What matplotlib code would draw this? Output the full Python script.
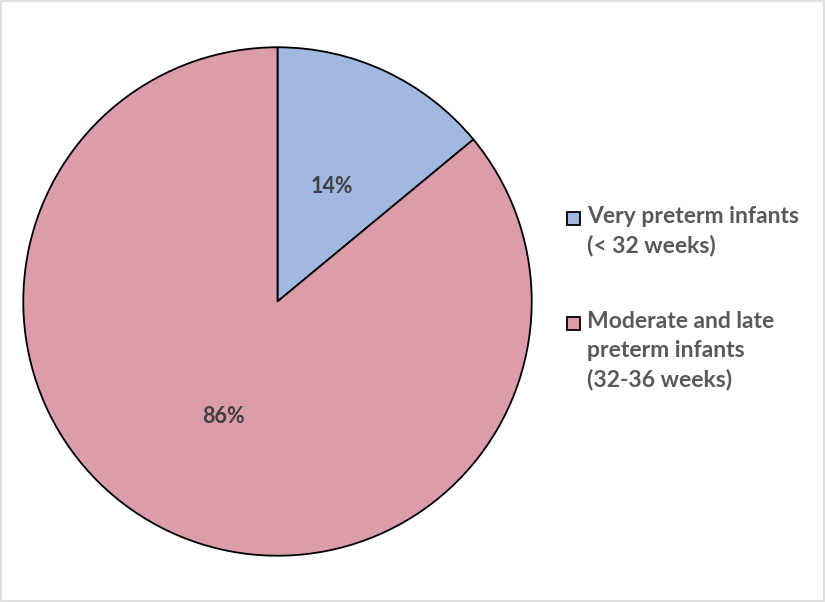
import matplotlib.pyplot as plt
from matplotlib.patches import Rectangle

labels = ['Very preterm infants\n(< 32 weeks)', 'Moderate and late\npreterm infants\n(32-36 weeks)']
shares = [14, 86]
colors = ['#A1B8E0', '#DB9DA9']

plt.rcParams['font.family'] = ['Lato', 'DejaVu Sans']

W, H = 825, 602
fig = plt.figure(figsize=(W / 100, H / 100), dpi=100)
ax = fig.add_axes([22 / W, 45 / H, 511 / W, 511 / H])

wedges, texts, autotexts = ax.pie(
    shares, colors=colors, startangle=90, counterclock=False,
    autopct='%d%%', pctdistance=0.5, radius=1,
    wedgeprops=dict(edgecolor='black', linewidth=1.3),
    textprops=dict(fontsize=15.5, fontweight='bold', color='#404040'))
ax.set_xlim(-1.005, 1.005)
ax.set_ylim(-1.005, 1.005)
ax.set_aspect('equal')

# legend drawn by hand so the marker sits on the first text line
rows = [218, 323]
for lab, c, y in zip(labels, colors, rows):
    fig.patches.append(Rectangle((567 / W, 1 - (y + 6.5) / H), 13 / W, 13 / H,
                                 transform=fig.transFigure, facecolor=c,
                                 edgecolor='black', linewidth=1.3))
    fig.text(587 / W, 1 - (y - 12) / H, lab, ha='left', va='top', fontsize=16.5,
             fontweight='bold', color='#595959', linespacing=1.45)

fig.patches.append(Rectangle((0.001, 0.001), 0.998, 0.997, transform=fig.transFigure,
                             fill=False, edgecolor='#D9D9D9', linewidth=1.2))

fig.savefig('out.png', dpi=100)
